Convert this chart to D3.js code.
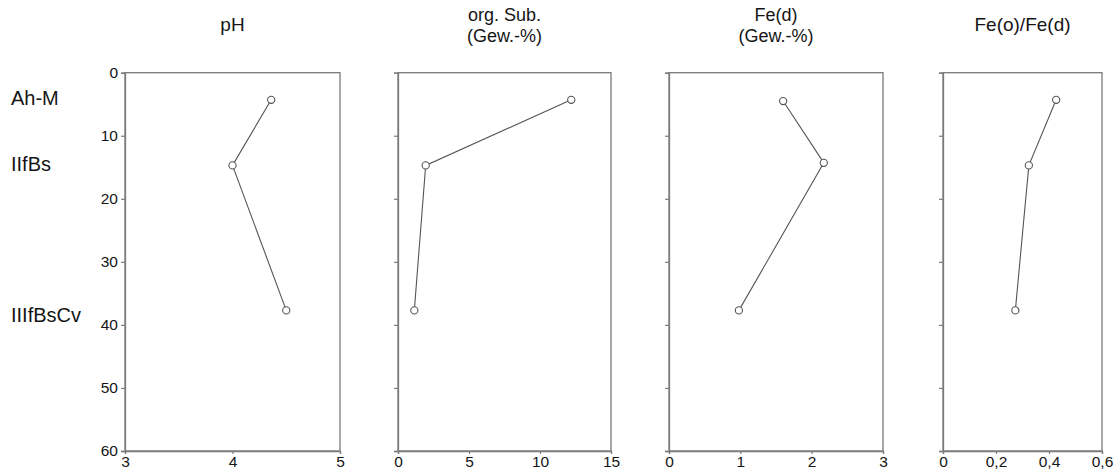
<!DOCTYPE html>
<html><head><meta charset="utf-8">
<script src="https://cdn.jsdelivr.net/npm/d3@7"></script>
<style>
body{margin:0;background:#fff;}
svg{display:block;font-family:"Liberation Sans",Arial,sans-serif;}
</style></head><body>
<svg id="c" width="1117" height="472"></svg>
<script>
// ---- data ----
const horizons = ["Ah-M", "IIfBs", "IIIfBsCv"];
const horizonDepths = [4, 14.5, 38.5];
const depths = [4.3, 14.7, 37.7];
const depthsFe = [4.5, 14.3, 37.7];
const pH = [4.36, 4.0, 4.5];
const orgSub = [12.2, 1.95, 1.15];
const feD = [1.6, 2.17, 0.98];
const feRatio = [0.427, 0.324, 0.273];
const depthTicks = [0, 10, 20, 30, 40, 50, 60];
const titles = [["pH"], ["org. Sub.", "(Gew.-%)"], ["Fe(d)", "(Gew.-%)"], ["Fe(o)/Fe(d)"]];
const xDomains = [[3, 5], [0, 15], [0, 3], [0, 0.6]];
const xTicks = [[3, 4, 5], [0, 5, 10, 15], [0, 1, 2, 3], [0, 0.2, 0.4, 0.6]];
const xTickLabels = [["3", "4", "5"], ["0", "5", "10", "15"], ["0", "1", "2", "3"], ["0", "0,2", "0,4", "0,6"]];

const panels = [
  {vals: pH, dep: depths, x0: 125, x1: 340},
  {vals: orgSub, dep: depths, x0: 398, x1: 611},
  {vals: feD, dep: depthsFe, x0: 669, x1: 883},
  {vals: feRatio, dep: depths, x0: 943, x1: 1102}
];

const svg = d3.select("#c");
const y = d3.scaleLinear().domain([0, 60]).range([72.7, 451]);
const axisCol = "#7a7a7a", lineCol = "#555", textCol = "#151515";

panels.forEach((p, i) => {
  const x = d3.scaleLinear().domain(xDomains[i]).range([p.x0, p.x1]);
  const g = svg.append("g");
  // frame
  g.append("rect").attr("x", p.x0).attr("y", y(0)).attr("width", p.x1 - p.x0).attr("height", y(60) - y(0))
    .attr("fill", "none").attr("stroke", axisCol).attr("stroke-width", 1.3);
  // y axis
  const ya = d3.axisLeft(y).tickValues(depthTicks).tickSize(4).tickPadding(3);
  if (i > 0) ya.tickFormat("");
  const yg = g.append("g").attr("transform", `translate(${p.x0},0)`).call(ya);
  // x axis
  const xa = d3.axisBottom(x).tickValues(xTicks[i]).tickSize(3).tickPadding(2)
    .tickFormat((d, j) => xTickLabels[i][j]);
  const xg = g.append("g").attr("transform", `translate(0,${y(60)})`).call(xa);
  [yg, xg].forEach(a => {
    a.select(".domain").attr("stroke", axisCol).attr("stroke-width", 1.3);
    a.selectAll(".tick line").attr("stroke", axisCol).attr("stroke-width", 1.2);
    a.selectAll("text").attr("fill", textCol).style("font-size", "15.5px")
      .style("font-family", '"Liberation Sans",Arial,sans-serif');
  });
  // title
  const t = titles[i];
  const cx = (p.x0 + p.x1) / 2;
  if (t.length === 1) {
    g.append("text").attr("x", cx).attr("y", 31).attr("text-anchor", "middle")
      .attr("fill", textCol).style("font-size", "19px").text(t[0]);
  } else {
    t.forEach((s, k) => g.append("text").attr("x", cx).attr("y", 21 + k * 20.5).attr("text-anchor", "middle")
      .attr("fill", textCol).style("font-size", "18px").text(s));
  }
  // line + points
  const pts = p.vals.map((v, k) => [x(v), y(p.dep[k])]);
  g.append("path").attr("d", d3.line()(pts)).attr("fill", "none").attr("stroke", lineCol).attr("stroke-width", 1.1);
  g.selectAll("circle").data(pts).join("circle").attr("cx", d => d[0]).attr("cy", d => d[1]).attr("r", 3.6)
    .attr("fill", "#fff").attr("stroke", lineCol).attr("stroke-width", 1.1);
});

// horizon labels
svg.append("g").selectAll("text").data(horizons).join("text")
  .attr("x", 11).attr("y", (d, i) => y(horizonDepths[i])).attr("dy", "0.35em")
  .attr("fill", textCol).style("font-size", "20px").text(d => d);
</script>
</body></html>
